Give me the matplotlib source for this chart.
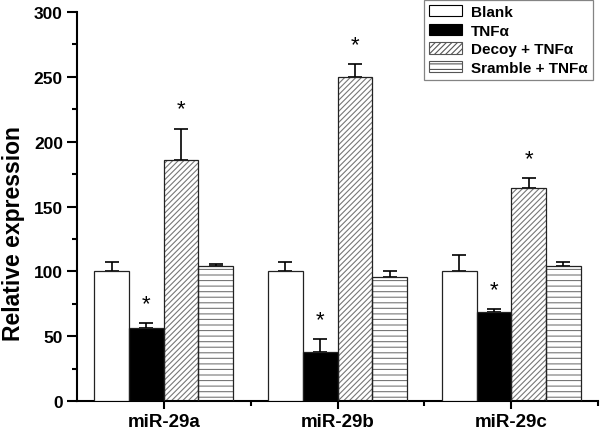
import matplotlib.pyplot as plt
import numpy as np
from matplotlib.patches import Patch

plt.rcParams['font.family'] = ['Liberation Sans', 'DejaVu Sans']
plt.rcParams['font.weight'] = 'bold'
plt.rcParams['hatch.linewidth'] = 0.8

categories = ['miR-29a', 'miR-29b', 'miR-29c']
groups = ['Blank', 'TNF\u03b1', 'Decoy + TNF\u03b1', 'Sramble + TNF\u03b1']
means = {
    'Blank': [100, 100, 100],
    'TNF\u03b1': [56, 38, 69],
    'Decoy + TNF\u03b1': [186, 250, 164],
    'Sramble + TNF\u03b1': [104, 96, 104],
}
errors = {
    'Blank': [7, 7, 13],
    'TNF\u03b1': [4, 10, 2],
    'Decoy + TNF\u03b1': [24, 10, 8],
    'Sramble + TNF\u03b1': [2, 4, 3],
}
significant = {
    'Blank': [False, False, False],
    'TNF\u03b1': [True, True, True],
    'Decoy + TNF\u03b1': [True, True, True],
    'Sramble + TNF\u03b1': [False, False, False],
}

faces = ['white', 'black', 'white', 'white']
hatches = [None, None, '//////', '---']

fig = plt.figure(figsize=(6, 4.31), dpi=100)
ax = fig.add_axes([0.128, 0.067, 0.869, 0.903])

x = np.arange(len(categories))
width = 0.2
for i, g in enumerate(groups):
    pos = x + (i - 1.5) * width
    if hatches[i]:
        ax.bar(pos, means[g], width, color='white', edgecolor='#777777',
               hatch=hatches[i], linewidth=0, zorder=2)
    ax.bar(pos, means[g], width, color=faces[i] if not hatches[i] else 'none',
           edgecolor='#222222', linewidth=0.9, zorder=3)
    ax.errorbar(pos, means[g], yerr=[np.zeros(3), errors[g]], fmt='none',
                ecolor='black', elinewidth=1.2, capsize=5, capthick=1.2, zorder=1)
    for p, m, e, s in zip(pos, means[g], errors[g], significant[g]):
        if s:
            ax.text(p, m + e + 7, '*', ha='center', va='bottom', fontsize=16,
                    fontweight='normal')

handles = []
for i, g in enumerate(groups):
    handles.append(Patch(facecolor=faces[i],
                         edgecolor='black' if not hatches[i] else '#555555',
                         hatch=hatches[i], linewidth=0.8, label=g))
leg = ax.legend(handles=handles, loc='upper right', bbox_to_anchor=(0.99, 1.031),
                borderaxespad=0, frameon=True, fancybox=False, edgecolor='#666666',
                fontsize=11, handlelength=2.15, handleheight=0.75, borderpad=0.35,
                labelspacing=0.3, handletextpad=0.6)
leg.get_frame().set_linewidth(0.9)

ax.set_xlim(-0.5, 2.5)
ax.set_ylim(0, 300)
ax.set_xticks(x)
ax.set_xticklabels(categories, fontsize=13.5, fontweight='bold')
ax.set_xticks([0.5, 1.5, 2.5], minor=True)
ax.set_yticks(np.arange(0, 301, 50))
ax.set_yticks(np.arange(25, 300, 50), minor=True)
ax.tick_params(axis='y', labelsize=12.5, width=1.5, length=7, direction='out', pad=3)
ax.tick_params(axis='y', which='minor', width=1.5, length=3.5)
ax.tick_params(axis='x', width=1.5, length=6, direction='out', pad=2.5)
ax.tick_params(axis='x', which='minor', width=1.5, length=3.5, direction='out')
for lab in ax.get_yticklabels():
    lab.set_fontweight('bold')
ax.set_ylabel('Relative expression', fontsize=16.5, fontweight='bold')
ax.yaxis.set_label_coords(-0.10, 0.432)
ax.spines['top'].set_visible(False)
ax.spines['right'].set_visible(False)
ax.spines['left'].set_linewidth(1.5)
ax.spines['bottom'].set_linewidth(1.5)

plt.savefig('out.png', dpi=100)
plt.close()
